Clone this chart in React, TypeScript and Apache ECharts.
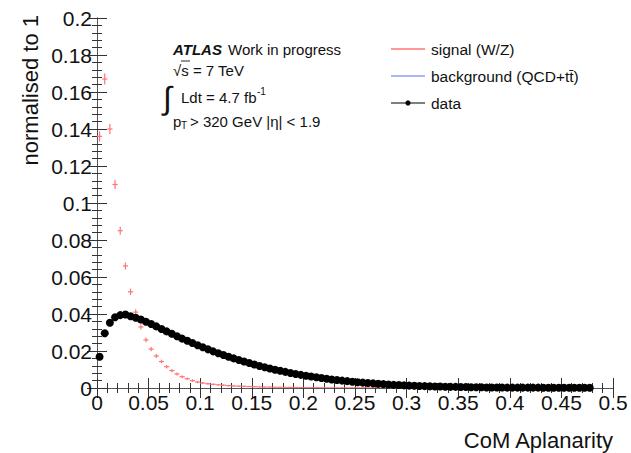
import React, { useEffect, useRef } from "react";
import * as echarts from "echarts";

// Histogram binning of the CoM aplanarity distribution
const BIN_WIDTH = 0.005;

// Data (black markers), normalised to unit area, one value per bin
const dataValues = [
  0.0169, 0.0296, 0.0353, 0.0382, 0.0394, 0.0397, 0.0388, 0.038, 0.037, 0.0358,
  0.0346, 0.0333, 0.0319, 0.0306, 0.0293, 0.028, 0.0267, 0.0255, 0.0243, 0.0231,
  0.022, 0.0209, 0.0198, 0.0188, 0.0178, 0.0169, 0.016, 0.0151, 0.0143, 0.0135,
  0.0127, 0.0119, 0.0112, 0.0105, 0.0099, 0.0093, 0.0087, 0.0081, 0.0076, 0.0071,
  0.0066, 0.0062, 0.0058, 0.0054, 0.005, 0.0046, 0.0043, 0.004, 0.0037, 0.0034,
  0.0031, 0.0029, 0.0027, 0.0025, 0.0023, 0.0021, 0.0019, 0.0017, 0.0016, 0.0014,
  0.0013, 0.0012, 0.0011, 0.001, 0.0009, 0.0008, 0.0008, 0.0007, 0.0006, 0.0006,
  0.0005, 0.0005, 0.0004, 0.0004, 0.0004, 0.0003, 0.0003, 0.0003, 0.0003, 0.0002,
  0.0002, 0.0002, 0.0002, 0.0002, 0.0002, 0.0002, 0.0001, 0.0001, 0.0001, 0.0001,
  0.0001, 0.0001, 0.0001, 0.0001, 0.0001, 0.0001,
];

// Signal (W/Z) MC, normalised to unit area, with statistical errors
const signalValues = [
  0.136, 0.167, 0.14, 0.11, 0.085, 0.066, 0.052, 0.041, 0.033, 0.026,
  0.021, 0.0173, 0.0143, 0.0115, 0.0094, 0.0076, 0.0061, 0.005, 0.004, 0.0032,
  0.0027, 0.0023, 0.002, 0.0017, 0.0015, 0.0013, 0.0011, 0.001, 0.0009, 0.0008,
  0.0007, 0.0006, 0.0005, 0.0005, 0.0004, 0.0004, 0.0003, 0.0003, 0.0003, 0.0002,
  0.0002, 0.0002, 0.0002, 0.0001, 0.0001, 0.0001, 0.0001, 0.0001, 0.0001, 0.0001,
  0.0001, 0.0001, 0.0001, 0.0001, 0.0001, 0.00005, 0.00005, 0.00005, 0.00005, 0.00005,
];
const signalErrors = [
  0.0027, 0.003, 0.0027, 0.0024, 0.0022, 0.0019, 0.0017, 0.0016, 0.0014, 0.0013,
  0.0012, 0.0011, 0.001, 0.001, 0.0009, 0.0008, 0.0008, 0.0007, 0.0007, 0.0006,
  0.0006, 0.0005, 0.0005, 0.0005, 0.0004, 0.0004, 0.0004, 0.0003, 0.0003, 0.0003,
  0.0002, 0.0002, 0.0002, 0.0002, 0.0002, 0.0002, 0.0002, 0.0002, 0.0002, 0.0002,
  0.0001, 0.0001, 0.0001, 0.0001, 0.0001, 0.0001, 0.0001, 0.0001, 0.0001, 0.0001,
  0.0001, 0.0001, 0.0001, 0.0001, 0.0001, 0.0001, 0.0001, 0.0001, 0.0001, 0.0001,
];

const xTicks = [0, 0.05, 0.1, 0.15, 0.2, 0.25, 0.3, 0.35, 0.4, 0.45, 0.5];
const yTicks = [0, 0.02, 0.04, 0.06, 0.08, 0.1, 0.12, 0.14, 0.16, 0.18, 0.2];

const FONT = "'Liberation Sans', Arial, Helvetica, sans-serif";
const SIGNAL_COLOR = "#ff7474";
const BACKGROUND_COLOR = "#8c9cff";
const FRAME_COLOR = "#555";

const binCenter = (i: number) => +(BIN_WIDTH * (i + 0.5)).toFixed(4);
const fmt = (v: number) => String(+v.toFixed(2));

export default function App() {
  const ref = useRef<HTMLDivElement>(null);

  useEffect(() => {
    if (!ref.current) return;
    const chart = echarts.init(ref.current, undefined, { renderer: "svg" });

    const baseAxis = {
      type: "value" as const,
      axisLine: { show: true, lineStyle: { color: FRAME_COLOR, width: 1 } },
      axisTick: { show: true, inside: true, length: 10, lineStyle: { color: "#333" } },
      minorTick: { show: true, splitNumber: 5, length: 5, lineStyle: { color: "#333" } },
      splitLine: { show: false },
      minorSplitLine: { show: false },
    };

    const xAxisCommon = {
      ...baseAxis,
      min: xTicks[0],
      max: xTicks[xTicks.length - 1],
      interval: xTicks[1] - xTicks[0],
    };
    const yAxisCommon = {
      ...baseAxis,
      min: yTicks[0],
      max: yTicks[yTicks.length - 1],
      interval: yTicks[1] - yTicks[0],
    };

    const dataPoints = dataValues.map((v, i) => [binCenter(i), v]);
    const signalPoints = signalValues.map((v, i) => [binCenter(i), v, signalErrors[i]]);

    const legendItems = [
      { y: 49, label: "signal (W/Z)", color: SIGNAL_COLOR, dot: false },
      { y: 76, label: "background (QCD+tt\u0304)", color: BACKGROUND_COLOR, dot: false },
      { y: 103, label: "data", color: "#000", dot: true },
    ];

    const legendGraphics: any[] = [];
    legendItems.forEach((it) => {
      legendGraphics.push({
        type: "line",
        shape: { x1: 391, y1: it.y, x2: 425, y2: it.y },
        style: { stroke: it.color, lineWidth: it.dot ? 1.2 : 1.5 },
      });
      if (it.dot) {
        legendGraphics.push({
          type: "circle",
          shape: { cx: 408, cy: it.y, r: 2.6 },
          style: { fill: "#000" },
        });
      }
      legendGraphics.push({
        type: "text",
        x: 431,
        y: it.y,
        style: {
          text: it.label,
          font: `15.5px ${FONT}`,
          fill: "#111",
          textVerticalAlign: "middle",
        },
      });
    });

    const labelText = (x: number, y: number, text: string, size: number, extra: any = {}) => ({
      type: "text",
      x,
      y,
      style: {
        text,
        font: `${extra.italic ? "italic" : ""} ${extra.weight || ""} ${size}px ${FONT}`,
        fill: "#111",
        textVerticalAlign: "middle",
        textAlign: extra.align || "left",
      },
      ...(extra.rotation !== undefined ? { rotation: extra.rotation } : {}),
    });

    chart.setOption({
      animation: false,
      grid: { left: 97, right: 18, top: 18, bottom: 65 },
      xAxis: [
        {
          ...xAxisCommon,
          position: "bottom",
          axisLabel: { color: "#111", fontSize: 21, fontFamily: FONT, margin: 4, formatter: fmt },
        },
        { ...xAxisCommon, position: "top", axisLabel: { show: false } },
      ],
      yAxis: [
        {
          ...yAxisCommon,
          position: "left",
          axisLabel: { color: "#111", fontSize: 21, fontFamily: FONT, margin: 5, formatter: fmt },
        },
        { ...yAxisCommon, position: "right", axisLabel: { show: false } },
      ],
      series: [
        {
          name: "signal (W/Z)",
          type: "custom",
          clip: true,
          data: signalPoints,
          renderItem: (params: any, api: any) => {
            const x = api.value(0);
            const y = api.value(1);
            const e = api.value(2);
            const l = api.coord([x - BIN_WIDTH / 2, y]);
            const r = api.coord([x + BIN_WIDTH / 2, y]);
            const t = api.coord([x, y + e]);
            const b = api.coord([x, Math.max(0, y - e)]);
            const style = { stroke: SIGNAL_COLOR, lineWidth: 1.2 };
            return {
              type: "group",
              children: [
                { type: "line", shape: { x1: l[0], y1: l[1], x2: r[0], y2: r[1] }, style },
                { type: "line", shape: { x1: t[0], y1: t[1], x2: b[0], y2: b[1] }, style },
              ],
            };
          },
          z: 2,
        },
        {
          name: "data",
          type: "scatter",
          data: dataPoints,
          symbol: "circle",
          symbolSize: 8,
          itemStyle: { color: "#000", opacity: 1 },
          z: 3,
        },
      ],
      graphic: [
        // axis titles
        labelText(30, 15, "normalised to 1", 22, { rotation: Math.PI / 2, align: "right" }),
        labelText(613, 440, "CoM Aplanarity", 22, { align: "right" }),
        // ATLAS label block
        labelText(173, 49, "ATLAS", 15, { weight: "bold", italic: true }),
        labelText(228, 49, "Work in progress", 15),
        labelText(173, 70, "\u221As = 7 TeV", 15),
        { type: "line", shape: { x1: 181, y1: 61, x2: 190, y2: 61 }, style: { stroke: "#111", lineWidth: 0.9 } },
        labelText(163, 98, "\u222B", 32),
        labelText(181, 97, "Ldt = 4.7 fb", 15),
        labelText(257, 91, "-1", 10),
        labelText(173, 121, "p", 15),
        labelText(181, 125, "T", 10),
        labelText(190, 121, "> 320 GeV |\u03B7| < 1.9", 15),
        ...legendGraphics,
      ],
    });

    return () => chart.dispose();
  }, []);

  return (
    <div
      ref={ref}
      style={{ position: "fixed", left: 0, top: 0, width: 631, height: 453, background: "#fff" }}
    />
  );
}
